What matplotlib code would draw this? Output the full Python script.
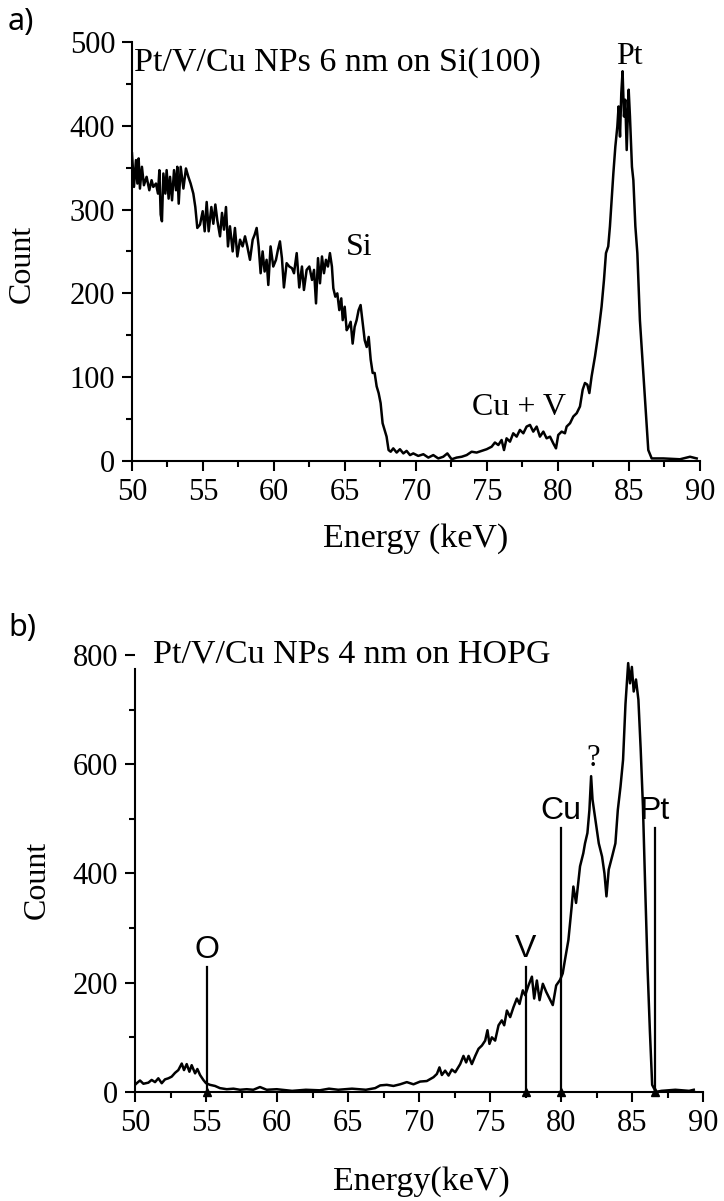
import matplotlib
matplotlib.use("Agg")
import matplotlib.pyplot as plt

# panel a: Pt/V/Cu NPs 6 nm on Si(100)
energy_a = [50.00, 50.14, 50.28, 50.38, 50.47, 50.56, 50.70, 50.84, 51.03, 51.22,
            51.38, 51.50, 51.69, 51.83, 51.93, 52.02, 52.11, 52.21, 52.35, 52.44,
            52.58, 52.68, 52.82, 52.96, 53.10, 53.19, 53.29, 53.43, 53.62, 53.80,
            53.97, 54.13, 54.32, 54.46, 54.60, 54.79, 54.98, 55.12, 55.26, 55.40,
            55.59, 55.73, 55.87, 56.01, 56.20, 56.34, 56.48, 56.62, 56.76, 56.90,
            57.09, 57.25, 57.42, 57.61, 57.79, 57.96, 58.12, 58.31, 58.50, 58.64,
            58.78, 58.92, 59.06, 59.20, 59.34, 59.48, 59.60, 59.76, 59.95, 60.14,
            60.28, 60.42, 60.56, 60.70, 60.89, 61.08, 61.27, 61.41, 61.60, 61.78,
            61.97, 62.11, 62.30, 62.49, 62.68, 62.82, 62.96, 63.10, 63.24, 63.38,
            63.52, 63.66, 63.80, 63.94, 64.08, 64.18, 64.32, 64.46, 64.60, 64.74,
            64.84, 64.98, 65.12, 65.26, 65.40, 65.54, 65.68, 65.82, 65.96, 66.10,
            66.24, 66.39, 66.53, 66.67, 66.81, 66.95, 67.09, 67.23, 67.37, 67.51,
            67.65, 67.79, 67.93, 68.07, 68.22, 68.40, 68.64, 68.87, 69.11, 69.34,
            69.58, 69.81, 70.16, 70.52, 70.87, 71.22, 71.57, 71.92, 72.21, 72.51,
            72.86, 73.22, 73.57, 73.92, 74.27, 74.62, 74.98, 75.33, 75.56, 75.80,
            76.03, 76.20, 76.38, 76.62, 76.85, 77.09, 77.32, 77.56, 77.79, 78.03,
            78.26, 78.50, 78.73, 78.97, 79.20, 79.44, 79.67, 79.86, 80.02, 80.26,
            80.49, 80.61, 80.85, 81.08, 81.32, 81.55, 81.74, 81.90, 82.07, 82.21,
            82.37, 82.61, 82.84, 83.07, 83.24, 83.38, 83.54, 83.66, 83.90, 84.04,
            84.18, 84.27, 84.37, 84.46, 84.55, 84.65, 84.74, 84.84, 84.98, 85.07,
            85.21, 85.31, 85.45, 85.59, 85.77, 86.01, 86.20, 86.36, 86.60, 87.42,
            88.59, 89.30, 89.77]
count_a = [367, 327, 359, 331, 361, 325, 351, 329, 339, 323,
           335, 327, 331, 319, 347, 294, 286, 343, 319, 347,
           313, 339, 311, 347, 323, 351, 307, 351, 325, 349,
           339, 331, 319, 303, 278, 282, 298, 274, 309, 274,
           303, 283, 306, 287, 268, 296, 276, 303, 256, 280,
           250, 278, 244, 264, 256, 268, 256, 240, 264, 270,
           278, 256, 224, 250, 226, 240, 210, 256, 232, 240,
           252, 262, 242, 207, 236, 232, 230, 224, 248, 207,
           232, 204, 228, 232, 216, 228, 188, 242, 212, 244,
           224, 240, 232, 248, 232, 206, 196, 200, 180, 194,
           168, 184, 156, 160, 166, 140, 160, 168, 180, 186,
           166, 144, 136, 148, 121, 105, 105, 89, 81, 69,
           45, 37, 29, 13, 11, 15, 10, 14, 9, 12,
           7, 9, 6, 8, 4, 7, 3, 5, 9, 2,
           4, 5, 7, 11, 10, 12, 14, 17, 22, 19,
           25, 13, 27, 23, 33, 29, 37, 33, 41, 43,
           35, 41, 29, 35, 27, 29, 21, 15, 31, 35,
           33, 41, 45, 53, 57, 65, 85, 93, 91, 81,
           101, 125, 152, 184, 216, 248, 256, 280, 343, 375,
           399, 423, 387, 439, 465, 411, 431, 371, 443, 411,
           351, 335, 280, 248, 168, 105, 57, 13, 3, 3,
           2, 5, 3]

# panel b: Pt/V/Cu NPs 4 nm on HOPG
energy_b = [50.00, 50.12, 50.35, 50.59, 50.94, 51.17, 51.41, 51.64, 51.88, 52.11,
            52.35, 52.58, 52.82, 53.05, 53.29, 53.45, 53.64, 53.83, 53.99, 54.23,
            54.39, 54.58, 54.81, 55.00, 55.28, 55.63, 55.98, 56.46, 56.93, 57.39,
            57.86, 58.33, 58.80, 59.27, 59.98, 61.06, 62.03, 63.01, 63.66, 64.31,
            65.28, 66.26, 66.91, 67.27, 67.73, 68.20, 68.67, 69.14, 69.61, 70.08,
            70.55, 71.02, 71.26, 71.44, 71.61, 71.84, 72.08, 72.31, 72.55, 72.90,
            73.13, 73.32, 73.49, 73.72, 73.96, 74.19, 74.43, 74.66, 74.82, 74.96,
            75.13, 75.36, 75.60, 75.83, 76.00, 76.19, 76.42, 76.65, 76.89, 77.08,
            77.31, 77.48, 77.71, 77.95, 78.11, 78.30, 78.49, 78.72, 78.96, 79.19,
            79.42, 79.66, 79.82, 79.93, 80.12, 80.28, 80.52, 80.75, 80.87, 81.06,
            81.34, 81.57, 81.69, 81.86, 82.00, 82.12, 82.22, 82.42, 82.66, 82.89,
            83.06, 83.20, 83.36, 83.60, 83.83, 84.00, 84.19, 84.37, 84.54, 84.73,
            84.86, 84.99, 85.12, 85.28, 85.45, 85.61, 85.77, 85.93, 86.10, 86.26,
            86.42, 86.68, 87.07, 88.05, 89.02, 89.35]
count_b = [13, 16, 21, 15, 17, 22, 18, 25, 16, 23,
           25, 28, 35, 40, 52, 40, 51, 37, 49, 34,
           42, 31, 22, 16, 13, 11, 7, 5, 6, 4,
           5, 4, 9, 4, 5, 2, 4, 3, 6, 4,
           6, 4, 7, 12, 13, 11, 14, 18, 14, 19,
           20, 27, 33, 45, 31, 39, 30, 41, 36, 51,
           66, 54, 66, 51, 66, 79, 85, 94, 113, 88,
           100, 94, 122, 131, 122, 149, 137, 155, 171, 161,
           186, 177, 195, 211, 171, 204, 168, 198, 183, 171,
           159, 195, 201, 205, 217, 242, 278, 339, 376, 346,
           413, 437, 455, 474, 516, 578, 535, 498, 455, 431,
           400, 358, 407, 431, 455, 516, 559, 608, 710, 785,
           748, 778, 733, 755, 718, 628, 523, 373, 223, 111,
           13, 0, 2, 4, 2, 4]

# element markers in panel b
marker_names = ["O", "V", "Cu", "Pt"]
marker_pos = [55.05, 77.5, 80.0, 86.6]
marker_top = [228, 229, 483, 483]

serif = "Liberation Serif"
sans = "Liberation Sans"

fig = plt.figure(figsize=(7.24, 12.01), dpi=100)
ax1 = fig.add_axes([0.1823, 0.6162, 0.7845, 0.3489])
ax2 = fig.add_axes([0.1865, 0.0908, 0.7845, 0.3639])

for ax in (ax1, ax2):
    for s in ("top", "right"):
        ax.spines[s].set_visible(False)
    for s in ("left", "bottom"):
        ax.spines[s].set_linewidth(1.5)
    ax.set_xlim(50, 90)
    ax.set_xticks(range(50, 91, 5))
    ax.set_xticks([50 + 2.5 * i for i in range(17)], minor=True)
    ax.tick_params(which="major", direction="out", length=7, width=1.5, pad=5, labelsize=22)
    ax.tick_params(which="minor", direction="out", length=4, width=1.5)

# --- a ---
ax1.plot(energy_a, count_a, color="black", lw=1.8)
ax1.set_ylim(0, 500)
ax1.set_yticks(range(0, 501, 100))
ax1.set_yticks(range(0, 501, 50), minor=True)
ax1.text(-0.193, 0.47, "Count", transform=ax1.transAxes, rotation=90,
         ha="center", va="center", fontsize=23, family=serif)
ax1.text(0.5, -0.185, "Energy (keV)", transform=ax1.transAxes,
         ha="center", va="center", fontsize=24.5, family=serif)
ax1.text(50.15, 475, "Pt/V/Cu NPs 6 nm on Si(100)", ha="left", va="center",
         fontsize=24.5, family=serif)
ax1.text(85.05, 482, "Pt", ha="center", va="center", fontsize=23, family=serif)
ax1.text(66.0, 255, "Si", ha="center", va="center", fontsize=23, family=serif)
ax1.text(77.25, 64, "Cu + V", ha="center", va="center", fontsize=23, family=serif)
fig.text(0.011, 0.982, "a)", ha="left", va="center", fontsize=22, family="Noto Sans")

# --- b ---
ax2.plot(energy_b, count_b, color="black", lw=1.8)
ax2.set_ylim(0, 800)
ax2.spines["left"].set_bounds(0, 774)
ax2.set_yticks(range(0, 801, 200))
ax2.set_yticks(range(0, 801, 100), minor=True)
for name, xp, top in zip(marker_names, marker_pos, marker_top):
    ax2.plot([xp, xp], [0, top], color="black", lw=1.6)
    ax2.plot([xp], [0], marker="^", color="black", ms=6, clip_on=False)
    ax2.text(xp, top + 32, name, ha="center", va="center", fontsize=23, family=sans)
ax2.text(82.25, 610, "?", ha="center", va="center", fontsize=22, family=serif)
ax2.text(51.3, 802, "Pt/V/Cu NPs 4 nm on HOPG", ha="left", va="center",
         fontsize=24.5, family=serif, clip_on=False)
ax2.text(-0.172, 0.485, "Count", transform=ax2.transAxes, rotation=90,
         ha="center", va="center", fontsize=23, family=serif)
ax2.text(0.505, -0.206, "Energy(keV)", transform=ax2.transAxes,
         ha="center", va="center", fontsize=24.5, family=serif)
fig.text(0.011, 0.477, "b)", ha="left", va="center", fontsize=22, family="Noto Sans")

for ax in (ax1, ax2):
    for lab in ax.get_xticklabels() + ax.get_yticklabels():
        lab.set_fontfamily(serif)

fig.savefig("out.png", dpi=100)
